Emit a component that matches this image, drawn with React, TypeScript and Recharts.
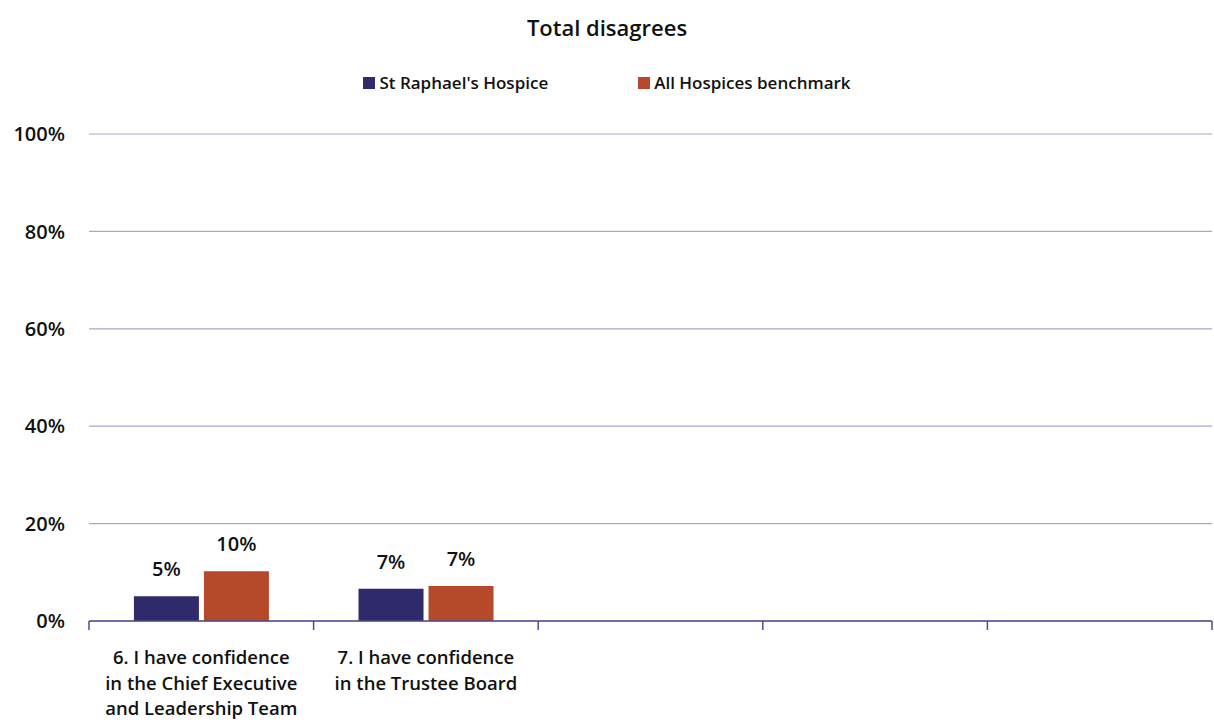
import { Bar, BarChart, CartesianGrid, LabelList, XAxis, YAxis } from "recharts";

const categories = [
  "6. I have confidence\nin the Chief Executive\nand Leadership Team",
  "7. I have confidence\nin the Trustee Board",
  "",
  " ",
  "  ",
];
const stRaphael = [5.1, 6.6, null, null, null];
const allHospices = [10.2, 7.2, null, null, null];
const yTicks = [0, 20, 40, 60, 80, 100];

const seriesInfo = [
  { key: "st", name: "St Raphael's Hospice", color: "#2f2a6b" },
  { key: "all", name: "All Hospices benchmark", color: "#b5492a" },
];

const data = categories.map((name, i) => ({
  name,
  st: stRaphael[i],
  all: allHospices[i],
}));

const FONT = "'Open Sans', 'DejaVu Sans', sans-serif";
const W = 1214;
const H = 727;
const LEFT = 89;
const RIGHT = 2;
const band = (W - LEFT - RIGHT) / categories.length;
const textStyle = { fontFamily: FONT, fontSize: 20, fontWeight: 600, fill: "#111" };

function CategoryTick(props: any) {
  const { x, y, payload, index } = props;
  const lines = String(payload.value).split("\n");
  const left = x - band / 2;
  return (
    <g>
      <line x1={left} y1={y - 8} x2={left} y2={y + 1} stroke="#4f4c8c" strokeWidth={1.5} />
      {index === categories.length - 1 && (
        <line x1={left + band} y1={y - 8} x2={left + band} y2={y + 1} stroke="#4f4c8c" strokeWidth={1.5} />
      )}
      {lines.map((l, i) => (
        <text key={i} x={x} y={y + 35 + i * 25.5} textAnchor="middle" {...textStyle} fontSize={18.5}>
          {l.trim()}
        </text>
      ))}
    </g>
  );
}

export default function App() {
  const labelFmt = (v: any) => (v == null ? "" : `${Math.round(v)}%`);
  return (
    <div style={{ position: "absolute", left: 0, top: 0, width: W, height: H, background: "#fff" }}>
      <div
        style={{
          position: "absolute",
          top: 12,
          width: "100%",
          textAlign: "center",
          fontFamily: FONT,
          fontSize: 22,
          fontWeight: 600,
          color: "#111",
        }}
      >
        Total disagrees
      </div>
      <div
        style={{
          position: "absolute",
          top: 71,
          width: "100%",
          display: "flex",
          justifyContent: "center",
          gap: 90,
          fontFamily: FONT,
          fontSize: 17,
          fontWeight: 600,
          color: "#111",
        }}
      >
        {seriesInfo.map((s) => (
          <div key={s.key} style={{ display: "flex", alignItems: "center" }}>
            <span style={{ width: 12, height: 12, background: s.color, display: "inline-block", marginRight: 4 }} />
            {s.name}
          </div>
        ))}
      </div>
      <BarChart
        width={W}
        height={H}
        data={data}
        margin={{ top: 134, right: RIGHT, left: 0, bottom: 0 }}
        barCategoryGap="20%"
        barGap={5}
      >
        <CartesianGrid vertical={false} stroke="#a9a6cf" strokeWidth={1.2} />
        <XAxis
          dataKey="name"
          axisLine={{ stroke: "#4f4c8c", strokeWidth: 1.5 }}
          tickLine={false}
          interval={0}
          tick={<CategoryTick />}
          height={106}
        />
        <YAxis
          domain={[0, 100]}
          ticks={yTicks}
          tickFormatter={(v) => `${v}%`}
          axisLine={false}
          tickLine={false}
          tickSize={0}
          tickMargin={24}
          width={LEFT}
          tick={textStyle}
        />
        {seriesInfo.map((s) => (
          <Bar key={s.key} dataKey={s.key} name={s.name} fill={s.color} isAnimationActive={false}>
            <LabelList dataKey={s.key} position="top" offset={20} formatter={labelFmt} style={textStyle} />
          </Bar>
        ))}
      </BarChart>
    </div>
  );
}
